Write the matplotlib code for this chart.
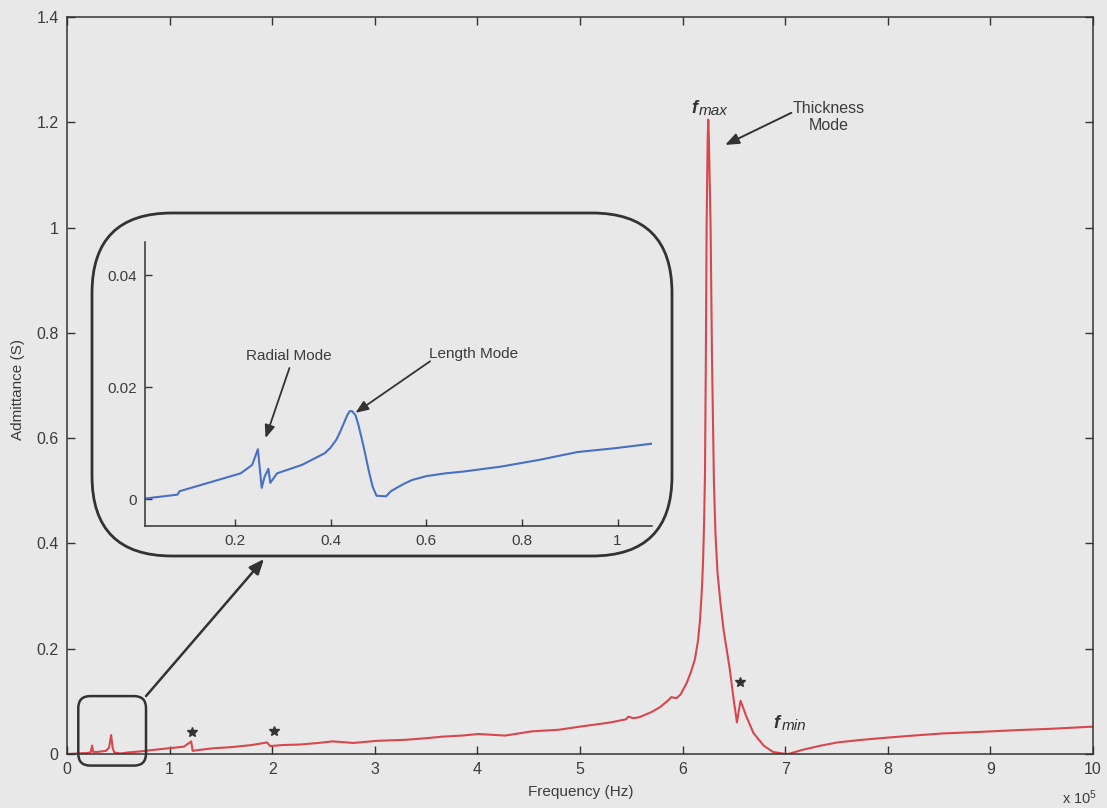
import matplotlib.pyplot as plt
from matplotlib.patches import FancyBboxPatch, FancyArrowPatch
from matplotlib.transforms import IdentityTransform

plt.rcParams['font.family'] = ['Liberation Sans', 'DejaVu Sans']
plt.rcParams['mathtext.default'] = 'regular'

# admittance sweep, frequency in units of 1e5 Hz
freq = [0.00, 0.10, 0.20, 0.23, 0.245, 0.255, 0.30, 0.38, 0.41, 0.43, 0.445, 0.46,
        0.52, 0.60, 0.72, 0.85, 1.00, 1.14, 1.19, 1.21, 1.225, 1.30, 1.43, 1.60,
        1.80, 1.95, 1.98, 2.10, 2.27, 2.45, 2.59, 2.79, 3.02, 3.30, 3.50, 3.66,
        3.85, 4.01, 4.27, 4.53, 4.79, 5.00, 5.15, 5.30, 5.45, 5.47, 5.52, 5.58,
        5.70, 5.78, 5.86, 5.89, 5.94, 5.98, 6.04, 6.08, 6.12, 6.15, 6.17, 6.19, 6.20,
        6.21, 6.218, 6.227, 6.234, 6.244, 6.25, 6.256, 6.263, 6.273, 6.286, 6.305, 6.32,
        6.34, 6.37, 6.40, 6.46, 6.50, 6.53, 6.55, 6.565, 6.59, 6.62, 6.69, 6.79, 6.88,
        6.97, 7.03, 7.10, 7.17, 7.35, 7.51, 7.75, 7.99, 8.25, 8.53, 8.90, 9.22, 9.60, 10.0]
admittance = [0.000, 0.001, 0.002, 0.003, 0.016, 0.004, 0.004, 0.006, 0.012, 0.036, 0.012, 0.003,
              0.001, 0.003, 0.005, 0.008, 0.011, 0.014, 0.021, 0.024, 0.006, 0.008, 0.011, 0.013,
              0.017, 0.022, 0.015, 0.017, 0.018, 0.021, 0.024, 0.021, 0.025, 0.027, 0.030, 0.033,
              0.035, 0.038, 0.035, 0.043, 0.046, 0.052, 0.056, 0.060, 0.066, 0.071, 0.068, 0.070,
              0.080, 0.089, 0.102, 0.108, 0.106, 0.113, 0.135, 0.155, 0.180, 0.215, 0.255, 0.320,
              0.370, 0.445, 0.530, 0.762, 1.002, 1.163, 1.205, 1.170, 1.100, 1.000, 0.760, 0.520,
              0.420, 0.345, 0.285, 0.235, 0.161, 0.100, 0.060, 0.085, 0.101, 0.088, 0.072, 0.040,
              0.016, 0.004, 0.001, 0.000, 0.004, 0.008, 0.016, 0.022, 0.027, 0.031, 0.035, 0.039,
              0.042, 0.045, 0.048, 0.052]

# zoomed low-frequency part
freq_low = [0.012, 0.08, 0.084, 0.156, 0.212, 0.236, 0.248, 0.256, 0.262, 0.270, 0.274,
            0.288, 0.34, 0.388, 0.40, 0.412, 0.42, 0.428, 0.435, 0.44, 0.445, 0.452, 0.458,
            0.464, 0.47, 0.48, 0.488, 0.496, 0.516, 0.526, 0.54, 0.555, 0.57, 0.60, 0.64,
            0.676, 0.756, 0.836, 0.916, 0.996, 1.072]
adm_low = [0.0001, 0.0008, 0.0014, 0.0032, 0.0046, 0.0061, 0.0089, 0.0020, 0.0040, 0.0054, 0.0029,
           0.0046, 0.0061, 0.0082, 0.0092, 0.0106, 0.0120, 0.0136, 0.0150, 0.0157, 0.0157, 0.0150,
           0.0133, 0.0112, 0.0090, 0.0050, 0.0022, 0.0006, 0.0005, 0.0014, 0.0021, 0.0028,
           0.0034, 0.0041, 0.0046, 0.0049, 0.0058, 0.0070, 0.0084, 0.0091, 0.0099]

# spurious resonances marked with a star
star_freq = [1.22, 2.02, 6.56]
star_adm = [0.042, 0.043, 0.137]

x_ticks = [0, 1, 2, 3, 4, 5, 6, 7, 8, 9, 10]
y_ticks = [0, 0.2, 0.4, 0.6, 0.8, 1.0, 1.2, 1.4]
y_tick_labels = ['0', '0.2', '0.4', '0.6', '0.8', '1', '1.2', '1.4']
low_x_ticks = [0.2, 0.4, 0.6, 0.8, 1.0]
low_x_labels = ['0.2', '0.4', '0.6', '0.8', '1']
low_y_ticks = [0, 0.02, 0.04]
low_y_labels = ['0', '0.02', '0.04']

BG = '#e8e8e8'
RED = '#d6474f'
BLUE = '#4a70c2'
DARK = '#333333'
TXT = '#3c3c3c'
W, H = 1107, 808

fig = plt.figure(figsize=(W / 100, H / 100), dpi=100)
fig.patch.set_facecolor(BG)

ax = fig.add_axes([67 / W, 1 - 754 / H, (1093 - 67) / W, (754 - 17) / H])
ax.set_facecolor(BG)
ax.plot(freq, admittance, color=RED, lw=1.5)
ax.plot(star_freq, star_adm, '*', color=DARK, ms=7, mec=DARK)
ax.set_xlim(0, 10)
ax.set_ylim(0, 1.4)
ax.set_xticks(x_ticks)
ax.set_yticks(y_ticks)
ax.set_yticklabels(y_tick_labels)
ax.tick_params(direction='in', top=True, right=True, length=6, width=1.0,
               color=DARK, labelcolor=TXT, labelsize=11.5, pad=6)
for s in ax.spines.values():
    s.set_color(DARK)
    s.set_linewidth(1.1)

fig.text(581 / W, 1 - 792 / H, 'Frequency (Hz)', ha='center', va='center', fontsize=11, color=TXT)
fig.text(18 / W, 1 - 390 / H, 'Admittance (S)', ha='center', va='center', rotation=90,
         fontsize=11, color=TXT)
fig.text(1080 / W, 1 - 798 / H, 'x 10$^5$', ha='center', va='center', fontsize=10.5, color=TXT)

# labels at the resonance and anti-resonance
ax.text(6.088, 1.218, 'f', fontsize=13, fontweight='bold', style='italic', color=DARK)
ax.text(6.16, 1.213, 'max', fontsize=11, style='italic', color=DARK)
ax.text(6.886, 0.049, 'f', fontsize=13, fontweight='bold', style='italic', color=DARK)
ax.text(6.969, 0.046, 'min', fontsize=11, style='italic', color=DARK)

ax.text(7.42, 1.21, 'Thickness\nMode', ha='center', va='center', fontsize=11.5,
        color=TXT, linespacing=1.15)
head = '-|>,head_length=0.55,head_width=0.22'
ax.annotate('', xy=(6.415, 1.157), xytext=(7.06, 1.218),
            arrowprops=dict(arrowstyle=head, color=DARK, lw=1.4, mutation_scale=15,
                            shrinkA=0, shrinkB=0))

# inset with the low-frequency modes
ins = fig.add_axes([145 / W, 1 - 526 / H, (652 - 145) / W, (526 - 242) / H])
ins.set_facecolor('none')
ins.plot(freq_low, adm_low, color=BLUE, lw=1.5)
ins.set_xlim(0.012, 1.072)
ins.set_ylim(-0.0048, 0.0459)
ins.set_xticks(low_x_ticks)
ins.set_xticklabels(low_x_labels)
ins.set_yticks(low_y_ticks)
ins.set_yticklabels(low_y_labels)
ins.spines['top'].set_visible(False)
ins.spines['right'].set_visible(False)
for s in ['left', 'bottom']:
    ins.spines[s].set_color(DARK)
    ins.spines[s].set_linewidth(1.1)
ins.tick_params(direction='in', length=5, width=1.0, color=DARK, labelcolor=TXT,
                labelsize=11, pad=6)

ins.text(0.312, 0.0256, 'Radial Mode', ha='center', va='center', fontsize=11, color=TXT)
ins.annotate('', xy=(0.264, 0.0109), xytext=(0.314, 0.0234),
             arrowprops=dict(arrowstyle=head, color=DARK, lw=1.3, mutation_scale=14,
                             shrinkA=0, shrinkB=0))
ins.text(0.698, 0.0259, 'Length Mode', ha='center', va='center', fontsize=11, color=TXT)
ins.annotate('', xy=(0.452, 0.0154), xytext=(0.608, 0.0246),
             arrowprops=dict(arrowstyle=head, color=DARK, lw=1.3, mutation_scale=14,
                             shrinkA=0, shrinkB=0))


def rounded_box(x0, y0, x1, y1, r, lw):
    # x0..y1 in pixels measured from the top-left corner
    box = FancyBboxPatch((x0 + r, H - y1 + r), (x1 - x0) - 2 * r, (y1 - y0) - 2 * r,
                         boxstyle=f'round,pad={r},rounding_size={r}',
                         transform=IdentityTransform(), fill=False, ec=DARK, lw=lw, zorder=5)
    fig.add_artist(box)


# small frame around the zoomed region on the main axes
bx0, by1 = ax.transData.transform((0.11, -0.022))
bx1, by0 = ax.transData.transform((0.77, 0.11))
rounded_box(bx0, H - by0, bx1, H - by1, 12, 1.8)
# big frame around the inset
rounded_box(92, 213, 672, 556, 80, 2.0)

link = FancyArrowPatch((bx1, by0), (264, H - 559), transform=IdentityTransform(),
                       arrowstyle='-|>,head_length=0.6,head_width=0.25', mutation_scale=15,
                       color=DARK, lw=1.8, shrinkA=0, shrinkB=0, zorder=5)
fig.add_artist(link)

fig.savefig('out.png', dpi=100, facecolor=BG)
